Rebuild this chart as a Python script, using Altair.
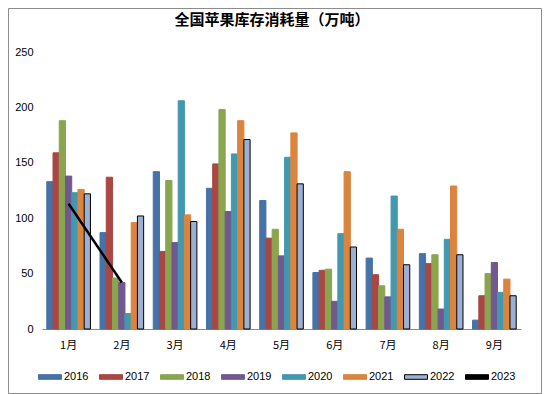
import altair as alt
import pandas as pd

months = ['1月', '2月', '3月', '4月', '5月', '6月', '7月', '8月', '9月']
years = ['2016', '2017', '2018', '2019', '2020', '2021', '2022', '2023']
bar_years = years[:7]

v2016 = [133, 87, 142, 127, 116, 51, 64, 68, 8]
v2017 = [159, 137, 70, 149, 82, 53, 49, 59, 30]
v2018 = [188, 46, 134, 198, 90, 54, 39, 67, 50]
v2019 = [138, 42, 78, 106, 66, 25, 29, 18, 60]
v2020 = [123, 14, 206, 158, 155, 86, 120, 81, 33]
v2021 = [126, 96, 103, 188, 177, 142, 90, 129, 45]
v2022 = [122, 102, 97, 171, 131, 74, 58, 67, 30]
v2023 = [113, 42]

title_text = '全国苹果库存消耗量（万吨）'

fill_colors = ['#4572A7', '#AA4643', '#89A54E', '#71588F', '#4198AF', '#DB843D', '#9DB0D4', '#000000']
stroke_colors = ['#4572A7', '#AA4643', '#89A54E', '#71588F', '#4198AF', '#DB843D', '#000000', '#000000']

series = [v2016, v2017, v2018, v2019, v2020, v2021, v2022]
rows = []
for yr, vals in zip(bar_years, series):
    for m, v in zip(months, vals):
        rows.append({'month': m, 'year': yr, 'value': v})
bars_df = pd.DataFrame(rows)
line_df = pd.DataFrame({'month': months[:len(v2023)], 'value': v2023, 'year': '2023'})

W, H = 479, 277
PL, PT, PR, PB = 34, 44, 21, 65

y_scale = alt.Scale(domain=[0, 250], nice=False, zero=True)

x_enc = alt.X('month:N', sort=months,
              scale=alt.Scale(paddingInner=0.18, paddingOuter=0.09),
              axis=alt.Axis(title=None, labelAngle=0, ticks=False, domainColor='#8c8c8c',
                            labelFont='Noto Sans CJK SC', labelFontSize=11, labelColor='#000000',
                            labelPadding=10))
y_enc = alt.Y('value:Q', scale=y_scale,
              axis=alt.Axis(title=None, values=[0, 50, 100, 150, 200, 250], grid=False,
                            domain=False, ticks=False, labelPadding=9,
                            labelFont='Liberation Sans', labelFontSize=11, labelColor='#000000'))

legend = alt.Legend(title=None, orient='none', legendX=-4, legendY=313, direction='horizontal',
                    columns=8, symbolType='M-1,-0.2H1V0.2H-1Z', symbolSize=529,
                    symbolStrokeWidth=1, labelFont='Liberation Sans', labelFontSize=11,
                    labelColor='#000000', labelOffset=2, columnPadding=8, padding=0)

bars = alt.Chart(bars_df).mark_bar(strokeWidth=1).encode(
    x=x_enc,
    xOffset=alt.XOffset('year:N', sort=bar_years, scale=alt.Scale(paddingInner=0, paddingOuter=0)),
    y=y_enc,
    fill=alt.Fill('year:N', scale=alt.Scale(domain=years, range=fill_colors), legend=legend),
    stroke=alt.Stroke('year:N', scale=alt.Scale(domain=years, range=stroke_colors), legend=legend),
)

line = alt.Chart(line_df).mark_line(color='#000000', strokeWidth=2.5).encode(
    x=alt.X('month:N', sort=months),
    y=alt.Y('value:Q', scale=y_scale),
)

border = alt.Chart(pd.DataFrame({'b': [0]})).mark_rect(
    fillOpacity=0, stroke='#8c8c8c', strokeWidth=1
).encode(
    x=alt.value(-PL + 0.5), x2=alt.value(W + PR - 0.5),
    y=alt.value(-PT + 0.5), y2=alt.value(H + PB - 0.5),
)

title = alt.Chart(pd.DataFrame({'t': [title_text]})).mark_text(
    font='Noto Sans CJK SC', fontSize=15, fontWeight='bold', color='#000000',
    align='center', baseline='middle'
).encode(
    text='t:N', x=alt.value(230), y=alt.value(-32), size=alt.value(15),
)

chart = alt.layer(bars, line, border, title).properties(
    width=W, height=H,
    autosize=alt.AutoSizeParams(type='none'),
    padding={'left': PL, 'top': PT, 'right': PR, 'bottom': PB},
).configure_view(strokeWidth=0)

chart.save('out.html', embed_options={'renderer': 'svg', 'actions': False})
